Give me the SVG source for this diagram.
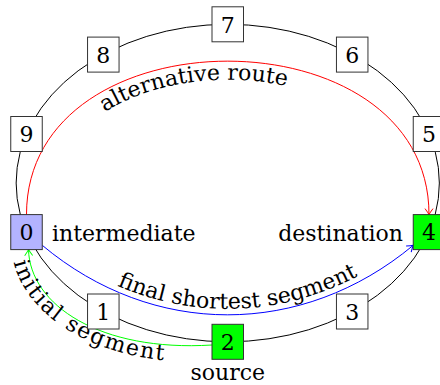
<svg xmlns="http://www.w3.org/2000/svg" width="440" height="385" viewBox="0 0 440 385">
<style>
text{font-family:"DejaVu Serif","Liberation Serif",serif;font-size:22px;fill:#000}
.box{fill:#fff;stroke:#333;stroke-width:1}
.num{text-anchor:middle}
.e{fill:none;stroke:#000;stroke-width:1}
</style>
<defs>
<marker id="ar" markerUnits="userSpaceOnUse" markerWidth="12" markerHeight="12" viewBox="-8 -6 10 12" refX="0" refY="0" orient="auto" overflow="visible"><path d="M-6,-4 Q-2,-1 0,0 Q-2,1 -6,4" fill="none" stroke="#f00" stroke-width="1"/></marker>
<marker id="ab" markerUnits="userSpaceOnUse" markerWidth="12" markerHeight="12" viewBox="-8 -6 10 12" refX="0" refY="0" orient="auto" overflow="visible"><path d="M-6,-4 Q-2,-1 0,0 Q-2,1 -6,4" fill="none" stroke="#00f" stroke-width="1"/></marker>
<marker id="ag" markerUnits="userSpaceOnUse" markerWidth="12" markerHeight="12" viewBox="-8 -6 10 12" refX="0" refY="0" orient="auto" overflow="visible"><path d="M-6,-4 Q-2,-1 0,0 Q-2,1 -6,4" fill="none" stroke="#0f0" stroke-width="1"/></marker>
<path id="tpRed" d="M46,214 C46,35 410,35 410,214"/>
<path id="tpBlue" d="M42,239 C153,332 302,332 413,239"/>
<path id="tpGreen" d="M12,248 C14,312 98,368 212,361"/>
</defs>
<g id="ring">
<ellipse class="e" cx="227.75" cy="183.05" rx="211.6" ry="158.75"/>
</g>
<g id="connectors">
<path d="M26.5,214.6 C26.5,10 429,10 429,214.6" fill="none" stroke="#f00" stroke-width="1" marker-end="url(#ar)"/>
<path d="M42.25,245.3 C153,338 302,338 413.25,245.3" fill="none" stroke="#00f" stroke-width="1" marker-end="url(#ab)"/>
<path d="M212,345 C100,352 30,305 28.5,249.6" fill="none" stroke="#0f0" stroke-width="1" marker-end="url(#ag)"/>
<text><textPath href="#tpRed" startOffset="123">alternative route</textPath></text>
<text><textPath href="#tpBlue" startOffset="213.5" text-anchor="middle">final shortest segment</textPath></text>
<text letter-spacing="1.7"><textPath href="#tpGreen" startOffset="14">initial segment</textPath></text>
</g>
<g id="n0"><rect class="box" x="10.75" y="214.6" width="31.5" height="35" style="fill:#b3b3ff"/><text class="num" x="26.5" y="240.3">0</text><text x="52" y="240.5">intermediate</text></g>
<g id="n1"><rect class="box" x="87.55" y="294" width="31.5" height="35"/><text class="num" x="103.3" y="319.7">1</text></g>
<g id="n2"><rect class="box" x="212" y="324.3" width="31.5" height="35" style="fill:#0f0"/><text class="num" x="227.75" y="350">2</text><text class="num" x="227.75" y="380">source</text></g>
<g id="n3"><rect class="box" x="336.45" y="294" width="31.5" height="35"/><text class="num" x="352.2" y="319.7">3</text></g>
<g id="n4"><rect class="box" x="413.25" y="214.6" width="31.5" height="35" style="fill:#0f0"/><text class="num" x="429" y="240.3">4</text><text x="403" y="240.5" text-anchor="end">destination</text></g>
<g id="n5"><rect class="box" x="413.25" y="116.5" width="31.5" height="35"/><text class="num" x="429" y="142.2">5</text></g>
<g id="n6"><rect class="box" x="336.45" y="37.1" width="31.5" height="35"/><text class="num" x="352.2" y="62.8">6</text></g>
<g id="n7"><rect class="box" x="212" y="6.8" width="31.5" height="35"/><text class="num" x="227.75" y="32.5">7</text></g>
<g id="n8"><rect class="box" x="87.55" y="37.1" width="31.5" height="35"/><text class="num" x="103.3" y="62.8">8</text></g>
<g id="n9"><rect class="box" x="10.75" y="116.5" width="31.5" height="35"/><text class="num" x="26.5" y="142.2">9</text></g>
</svg>
